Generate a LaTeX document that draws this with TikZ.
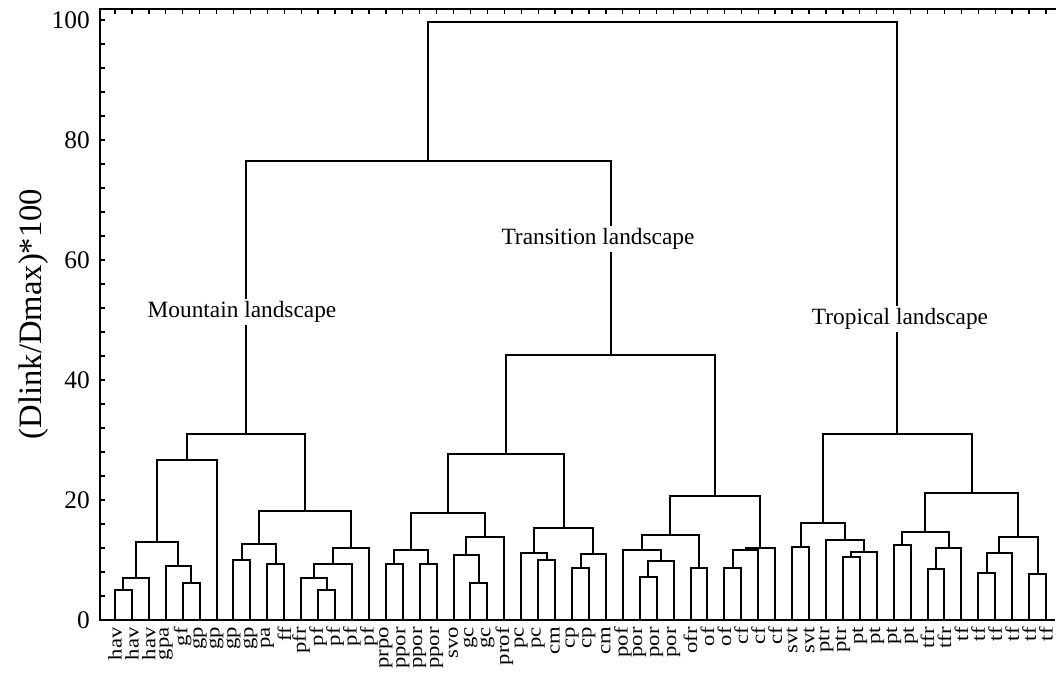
\documentclass[tikz,border=0pt]{standalone}
\usepackage{fontspec}
\usepackage{graphicx}
\setmainfont{Liberation Serif}
\usetikzlibrary{calc}
\tikzset{
  tree/.style={line width=1.5pt, line join=miter},
  axisline/.style={line width=1.5pt},
  tickmark/.style={line width=1pt},
  leaflab/.style={rotate=90, anchor=east, inner sep=0pt, font=\fontsize{17}{17}\selectfont},
  numlab/.style={anchor=east, inner sep=0pt, font=\fontsize{19}{19}\selectfont},
  grouplab/.style={fill=white, inner sep=2pt, font=\fontsize{17.5}{17.5}\selectfont},
  ylab/.style={rotate=90, inner sep=0pt, font=\fontsize{24.5}{24.5}\selectfont}
}
\newcommand\mrg[4]{%
  \coordinate (#1-c) at ($(#2)!0.5!(#3)$);
  \coordinate (#1) at (#1-c |- 0,#4);
  \draw[tree] (#2) |- (#1) -| (#3);
}
\begin{document}
\begin{tikzpicture}[x=0.75pt,y=-0.75pt]
\useasboundingbox (0,0) rectangle (1056,675);
% axes
\coordinate (ax0) at (100,620);
\coordinate (axtop) at (100,9);
\coordinate (axtr) at (1056,9);
\coordinate (axbr) at (1055,620);
\draw[axisline] (axtr) -- (axtop) -- (ax0) -- (axbr);
\foreach \v in {0,4,...,100} {
  \draw[tickmark] (100,{620-6*\v}) -- (105,{620-6*\v});
}
\foreach \v in {0,20,...,100} {
  \node[numlab] (num\v) at (90,{620-6*\v}) {\v};
}
\node[ylab] (ytitle) at (34,314) {(Dlink/Dmax)*100};
% leaves
\foreach \lab [count=\i] in {hav,hav,hav,gpa,gf,gp,gp,gp,gp,pa,ff,pfr,pf,pf,pf,pf,prpo,ppor,ppor,ppor,svo,gc,gc,prof,pc,pc,cm,cp,cp,cm,pof,por,por,por,ofr,of,of,cf,cf,cf,svt,svt,ptr,ptr,pt,pt,pt,pt,tfr,tfr,tf,tf,tf,tf,tf,tf} {
  \coordinate (L\i) at ({115+(\i-1)*16.927},620);
  \node[leaflab] (lab\i) at ({115+(\i-1)*16.927},627) {\scalebox{1}[0.85]{\lab}};
  \draw[tickmark] ({115+(\i-1)*16.927},9) -- ({115+(\i-1)*16.927},14);
}
% Mountain
\mrg{m1}{L1}{L2}{590}
\mrg{m2}{m1}{L3}{577.7}
\mrg{m3}{L5}{L6}{583.3}
\mrg{m4}{L4}{m3}{565.7}
\mrg{m5}{m2}{m4}{542.3}
\mrg{m6}{m5}{L7}{460}
\mrg{m7}{L8}{L9}{560}
\mrg{m8}{L10}{L11}{564}
\mrg{m9}{m7}{m8}{544}
\mrg{m10}{L13}{L14}{590}
\mrg{m11}{L12}{m10}{577.7}
\mrg{m12}{m11}{L15}{564}
\mrg{m13}{m12}{L16}{548.3}
\mrg{m14}{m9}{m13}{511}
\mrg{m15}{m6}{m14}{434.3}
% Transition
\mrg{t1}{L17}{L18}{564}
\mrg{t2}{L19}{L20}{564}
\mrg{t3}{t1}{t2}{550}
\mrg{t4}{L22}{L23}{583.3}
\mrg{t5}{L21}{t4}{554.7}
\mrg{t6}{t5}{L24}{536.7}
\mrg{t7}{t3}{t6}{513.3}
\mrg{t8}{L26}{L27}{560}
\mrg{t9}{L25}{t8}{553.3}
\mrg{t10}{L28}{L29}{568}
\mrg{t11}{t10}{L30}{554}
\mrg{t12}{t9}{t11}{528.3}
\mrg{t13}{t7}{t12}{454}
\mrg{t14}{L32}{L33}{577.3}
\mrg{t15}{t14}{L34}{560.7}
\mrg{t16}{L31}{t15}{550}
\mrg{t17}{L35}{L36}{568}
\mrg{t18}{t16}{t17}{535.3}
\mrg{t19}{L37}{L38}{568}
\mrg{t20}{t19}{L39}{550}
\mrg{t21}{t20}{L40}{548.3}
\mrg{t22}{t18}{t21}{496}
\mrg{t23}{t13}{t22}{355}
\mrg{left}{m15}{t23}{161}
% Tropical
\mrg{p1}{L41}{L42}{546.7}
\mrg{p2}{L44}{L45}{556.7}
\mrg{p3}{p2}{L46}{551.7}
\mrg{p4}{L43}{p3}{540}
\mrg{p5}{p1}{p4}{523.3}
\mrg{p6}{L47}{L48}{545}
\mrg{p7}{L49}{L50}{569}
\mrg{p8}{p7}{L51}{548.3}
\mrg{p9}{p6}{p8}{531.7}
\mrg{p10}{L52}{L53}{573.3}
\mrg{p11}{p10}{L54}{553.3}
\mrg{p12}{L55}{L56}{574}
\mrg{p13}{p11}{p12}{537.3}
\mrg{p14}{p9}{p13}{492.7}
\mrg{p15}{p5}{p14}{434}
\mrg{root}{left}{p15}{22}
% group labels
\node[grouplab] (gmount) at (242,312) {Mountain landscape};
\node[grouplab] (gtrans) at (598,239) {Transition landscape};
\node[grouplab] (gtrop) at (900,319) {Tropical landscape};
\end{tikzpicture}
\end{document}
